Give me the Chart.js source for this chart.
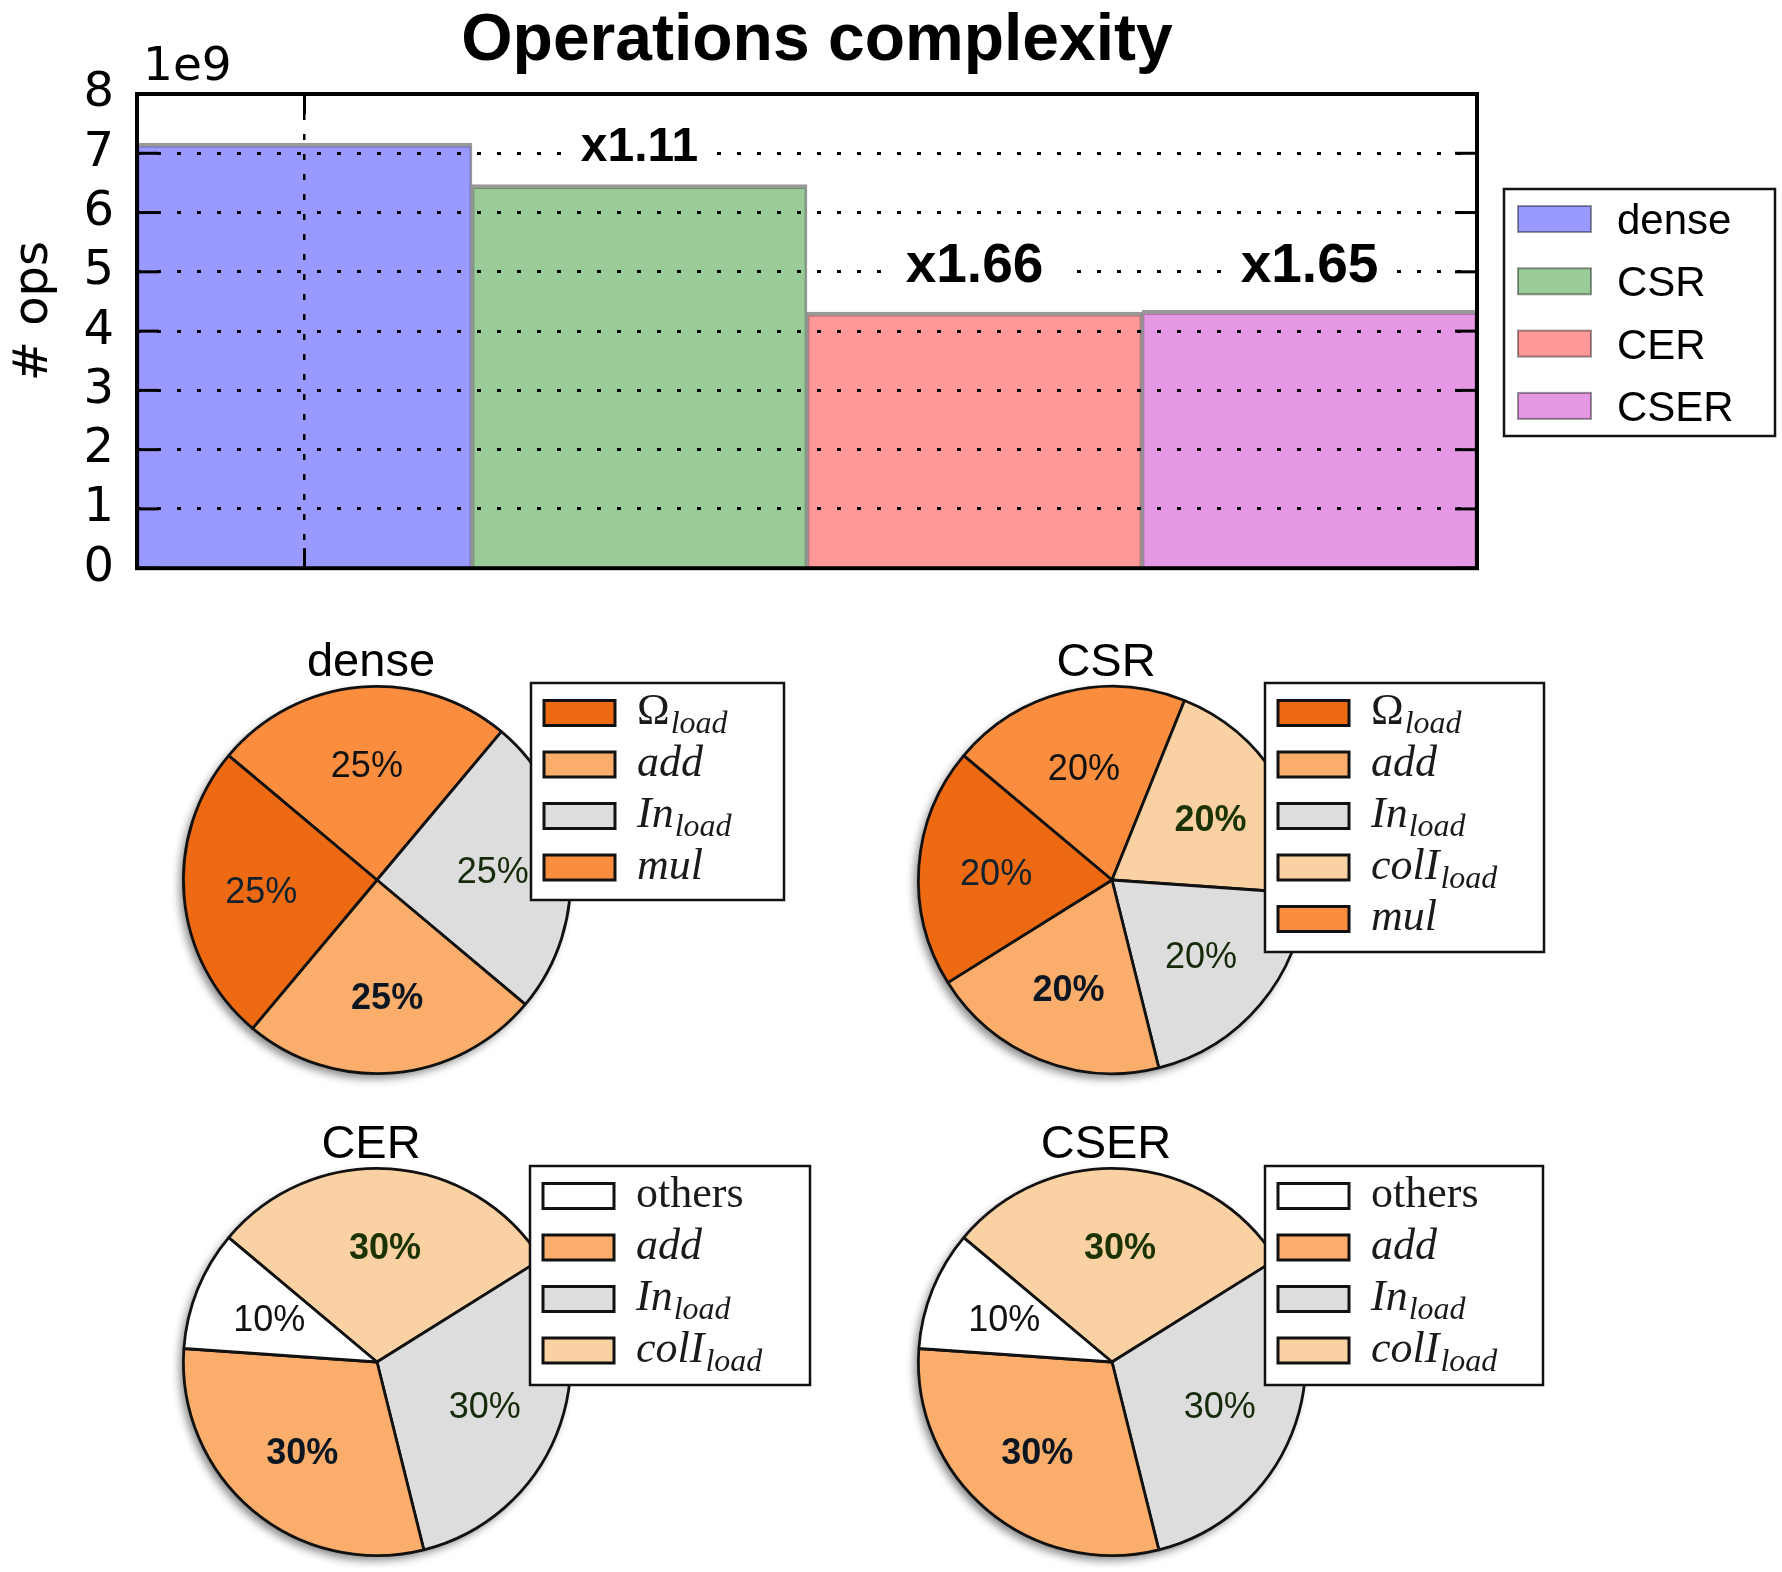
<!DOCTYPE html>
<html>
<head>
<meta charset="utf-8">
<title>Operations complexity</title>
<script src="https://cdn.jsdelivr.net/npm/chart.js@4.4.1/dist/chart.umd.min.js"></script>
<style>
body { margin: 0; background: #fff; }
#page { position: relative; width: 1782px; height: 1572px; overflow: hidden; background: #fff; }
#page canvas { position: absolute; }
</style>
</head>
<body>
<div id="page">
  <canvas id="opsChart" width="1782" height="620" style="left:0;top:0"></canvas>
  <canvas id="pieDense" width="891" height="480" style="left:0;top:620px"></canvas>
  <canvas id="pieCSR" width="891" height="480" style="left:891px;top:620px"></canvas>
  <canvas id="pieCER" width="891" height="470" style="left:0;top:1102px"></canvas>
  <canvas id="pieCSER" width="891" height="470" style="left:891px;top:1102px"></canvas>
</div>
<script>
// ---- data (bar chart, values x 1e9) ----
const barLabels = ['dense', 'CSR', 'CER', 'CSER'];
const opsValues = [7.17, 6.47, 4.32, 4.35];
const yTicks = [0, 1, 2, 3, 4, 5, 6, 7, 8];
const speedupText = ['', 'x1.11', 'x1.66', 'x1.65'];
const speedupAt = [null, 7.16, 5.16, 5.16];   // y value where the label sits

// ---- data (pies, percent) ----
const denseParts = ['Ω_load', 'add', 'In_load', 'mul'];
const denseShare = [25, 25, 25, 25];
const csrParts = ['Ω_load', 'add', 'In_load', 'colI_load', 'mul'];
const csrShare = [20, 20, 20, 20, 20];
const cerParts = ['others', 'add', 'In_load', 'colI_load'];
const cerShare = [10, 30, 30, 30];
const cserParts = ['others', 'add', 'In_load', 'colI_load'];
const cserShare = [10, 30, 30, 30];

// styles
const barColors = ['rgba(0,0,255,0.4)', 'rgba(0,128,0,0.4)', 'rgba(255,0,0,0.4)', 'rgba(191,0,191,0.4)'];
const speedupSize = [0, 48, 55, 55];
const partColors = {
    'Ω_load': '#ee6a12',
    'add': '#fbae6b',
    'In_load': '#dddddd',
    'colI_load': '#fad1a2',
    'mul': '#fa8d3e',
    'others': '#ffffff'
};
const pctColors = {
    'Ω_load': '#10222e',
    'add': '#0b1622',
    'In_load': '#142a08',
    'colI_load': '#1a3300',
    'mul': '#111111',
    'others': '#111111'
};
const boldParts = ['add', 'colI_load'];

Chart.defaults.font.family = '"DejaVu Sans"';

function line(ctx, x1, y1, x2, y2) {
    ctx.beginPath();
    ctx.moveTo(x1, y1);
    ctx.lineTo(x2, y2);
    ctx.stroke();
}

// frame, inner ticks, annotations, legend, titles
const barDecor = {
    id: 'barDecor',
    afterDraw(chart) {
        const { ctx, chartArea: a, scales: { x, y } } = chart;
        ctx.save();
        ctx.strokeStyle = '#000';
        ctx.lineWidth = 3;
        yTicks.forEach(v => {
            const py = y.getPixelForValue(v);
            line(ctx, a.left, py, a.left + 22, py);
            line(ctx, a.right - 22, py, a.right, py);
        });
        const px = x.getPixelForValue(0);
        line(ctx, px, a.bottom, px, a.bottom - 20);
        line(ctx, px, a.top, px, a.top + 20);

        ctx.lineWidth = 4;
        ctx.strokeRect(a.left, a.top, a.width, a.height);

        // speedup labels
        ctx.textAlign = 'center';
        ctx.textBaseline = 'alphabetic';
        speedupText.forEach((t, i) => {
            if (!t) return;
            const size = speedupSize[i];
            ctx.font = `bold ${size}px "Liberation Sans"`;
            const w = ctx.measureText(t).width;
            const cx = x.getPixelForValue(i);
            const cy = y.getPixelForValue(speedupAt[i]);
            ctx.fillStyle = '#fff';
            ctx.fillRect(cx - w / 2 - 18, cy - size * 0.5, w + 36, size);
            ctx.fillStyle = '#000';
            ctx.fillText(t, cx, cy + size * 0.358);
        });

        // title
        ctx.font = 'bold 66px "Liberation Sans"';
        ctx.fillText('Operations complexity', (a.left + a.right) / 2 + 10, a.top - 34);

        // offset text and axis label
        ctx.font = '47px "DejaVu Sans"';
        ctx.textAlign = 'left';
        ctx.fillText('1e9', a.left + 6, a.top - 14);
        ctx.save();
        ctx.translate(35, (a.top + a.bottom) / 2 - 20);
        ctx.rotate(-Math.PI / 2);
        ctx.textAlign = 'center';
        ctx.textBaseline = 'middle';
        ctx.font = '48px "DejaVu Sans"';
        ctx.fillText('# ops', 0, 0);
        ctx.restore();

        // legend
        const box = { x: 1504, y: 189, w: 271, h: 247 };
        ctx.fillStyle = '#fff';
        ctx.fillRect(box.x, box.y, box.w, box.h);
        ctx.lineWidth = 2.5;
        ctx.strokeStyle = '#111';
        ctx.strokeRect(box.x, box.y, box.w, box.h);
        ctx.font = '42px "Liberation Sans"';
        ctx.textAlign = 'left';
        chart.data.labels.forEach((lab, i) => {
            const cy = box.y + 30 + i * 62.3;
            ctx.fillStyle = chart.data.datasets[0].backgroundColor[i];
            ctx.fillRect(box.x + 14, cy - 13, 73, 26);
            ctx.strokeStyle = 'rgba(0,0,0,0.4)';
            ctx.lineWidth = 2;
            ctx.strokeRect(box.x + 14, cy - 13, 73, 26);
            ctx.fillStyle = '#000';
            ctx.fillText(lab, box.x + 113, cy + 15);
        });
        ctx.restore();
    }
};

new Chart(document.getElementById('opsChart'), {
    type: 'bar',
    data: {
        labels: barLabels,
        datasets: [{
            data: opsValues,
            backgroundColor: barColors,
            borderColor: 'rgba(0,0,0,0.4)',
            borderWidth: { top: 4, left: 2, right: 2, bottom: 0 },
            borderSkipped: false,
            barPercentage: 1,
            categoryPercentage: 1
        }]
    },
    options: {
        responsive: false,
        animation: false,
        layout: { padding: { left: 0, top: 94, right: 305, bottom: 50 } },
        plugins: { legend: { display: false }, tooltip: { enabled: false } },
        scales: {
            x: {
                offset: true,
                grid: {
                    offset: false,
                    z: 1,
                    drawTicks: false,
                    lineWidth: 2.5,
                    color: c => c.index === 0 ? '#000' : 'rgba(0,0,0,0)'
                },
                border: { display: false, dash: [6, 14] },
                ticks: { display: false },
                afterFit: s => { s.height = 0; }
            },
            y: {
                min: 0,
                max: 8,
                afterBuildTicks: s => { s.ticks = yTicks.map(v => ({ value: v })); },
                grid: { z: 1, drawTicks: false, lineWidth: 3, color: '#000' },
                border: { display: false, dash: [4, 16] },
                ticks: { autoSkip: false, color: '#000', padding: 23, font: { family: '"DejaVu Sans"', size: 48 } },
                afterFit: s => { s.width = 137; }
            }
        }
    },
    plugins: [barDecor]
});

// ---- pies ----
function drawPart(ctx, label, x, base) {
    const [main, sub] = label.split('_');
    const upright = main === 'others' || main === 'Ω';
    ctx.font = (upright ? '' : 'italic ') + '44px "Liberation Serif"';
    ctx.fillText(main, x, base);
    if (sub) {
        const w = ctx.measureText(main).width;
        ctx.font = 'italic 32px "Liberation Serif"';
        ctx.fillText(sub, x + w + 1, base + 9);
    }
}

const pieDecor = {
    id: 'pieDecor',
    beforeDatasetsDraw(chart) {
        // soft shadow under the disc
        const arc = chart.getDatasetMeta(0).data[0];
        const ctx = chart.ctx;
        ctx.save();
        ctx.beginPath();
        ctx.arc(arc.x, arc.y, arc.outerRadius, 0, Math.PI * 2);
        ctx.shadowColor = 'rgba(0,0,0,0.45)';
        ctx.shadowBlur = 8;
        ctx.shadowOffsetX = -4;
        ctx.shadowOffsetY = 5;
        ctx.fillStyle = '#fff';
        ctx.fill();
        ctx.restore();
    },
    afterDraw(chart, args, opts) {
        const ctx = chart.ctx;
        const arcs = chart.getDatasetMeta(0).data;
        const labels = chart.data.labels;
        const values = chart.data.datasets[0].data;
        ctx.save();
        ctx.textAlign = 'center';
        ctx.textBaseline = 'alphabetic';
        arcs.forEach((arc, i) => {
            const mid = (arc.startAngle + arc.endAngle) / 2;
            const r = arc.outerRadius * 0.6;
            const cx = arc.x + Math.cos(mid) * r;
            const cy = arc.y + Math.sin(mid) * r;
            const bold = boldParts.includes(labels[i]);
            ctx.font = (bold ? 'bold ' : '') + '36px "Liberation Sans"';
            ctx.fillStyle = pctColors[labels[i]];
            ctx.fillText(values[i] + '%', cx, cy + 36 * 0.358);
        });

        const a0 = arcs[0];
        ctx.fillStyle = '#000';
        ctx.font = '47px "Liberation Sans"';
        ctx.fillText(opts.title, a0.x - 6, a0.y - 221 + 47 * 0.358);

        // legend on top of the pie
        const b = opts.legendBox;
        ctx.fillStyle = '#fff';
        ctx.fillRect(b.x, b.y, b.w, b.h);
        ctx.strokeStyle = '#111';
        ctx.lineWidth = 2.5;
        ctx.strokeRect(b.x, b.y, b.w, b.h);
        ctx.textAlign = 'left';
        const order = labels.slice().reverse();
        order.forEach((lab, i) => {
            const cy = b.y + 30 + i * 51.5;
            ctx.fillStyle = partColors[lab];
            ctx.fillRect(b.x + 13, cy - 12.5, 71, 25);
            ctx.strokeStyle = '#111';
            ctx.lineWidth = 3;
            ctx.strokeRect(b.x + 13, cy - 12.5, 71, 25);
            ctx.fillStyle = '#1a1a1a';
            drawPart(ctx, lab, b.x + 106, cy + 11);
        });
        ctx.restore();
    }
};

function makePie(id, title, parts, share, padding, legendBox) {
    // matplotlib draws counter-clockwise, Chart.js clockwise -> reverse
    const labs = parts.slice().reverse();
    const vals = share.slice().reverse();
    return new Chart(document.getElementById(id), {
        type: 'pie',
        data: {
            labels: labs,
            datasets: [{
                data: vals,
                backgroundColor: labs.map(l => partColors[l]),
                borderColor: '#111',
                borderWidth: 2.8
            }]
        },
        options: {
            responsive: false,
            animation: false,
            rotation: -50,
            layout: { padding: padding },
            plugins: {
                legend: { display: false },
                tooltip: { enabled: false },
                pieDecor: { title: title, legendBox: legendBox }
            }
        },
        plugins: [pieDecor]
    });
}

makePie('pieDense', 'dense', denseParts, denseShare,
    { left: 182, right: 319, top: 65, bottom: 25 }, { x: 531, y: 63, w: 253, h: 217 });
makePie('pieCSR', 'CSR', csrParts, csrShare,
    { left: 26, right: 475, top: 65, bottom: 25 }, { x: 374, y: 63, w: 279, h: 269 });
makePie('pieCER', 'CER', cerParts, cerShare,
    { left: 182, right: 319, top: 65, bottom: 15 }, { x: 530, y: 64, w: 280, h: 219 });
makePie('pieCSER', 'CSER', cserParts, cserShare,
    { left: 26, right: 475, top: 65, bottom: 15 }, { x: 374, y: 64, w: 278, h: 219 });
</script>
</body>
</html>
